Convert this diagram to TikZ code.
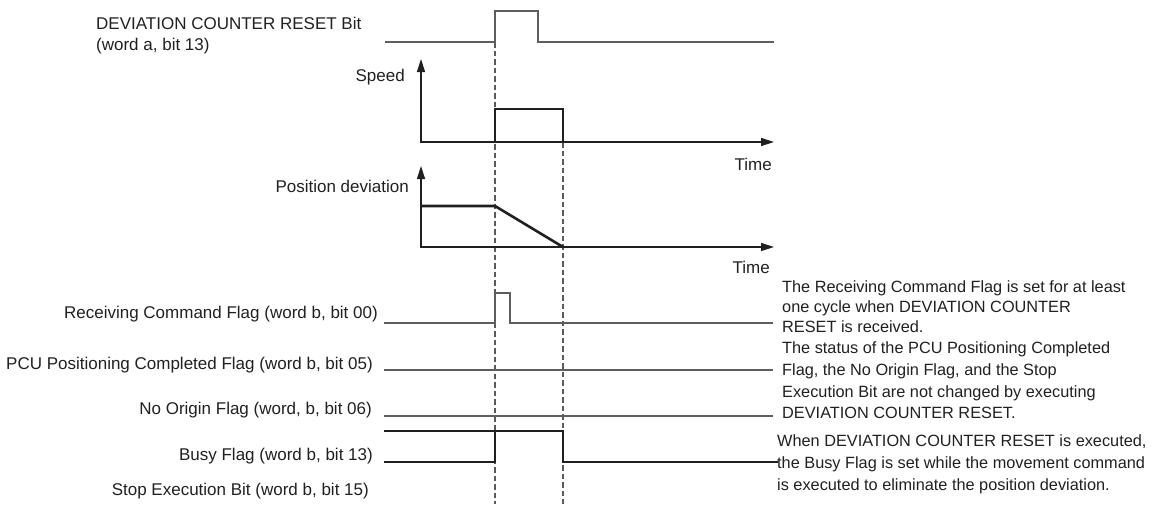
\documentclass[tikz,border=0pt]{standalone}
\usepackage{fontspec}
\setmainfont{Liberation Sans}
\usetikzlibrary{arrows.meta}
\definecolor{sig}{HTML}{5E5E5E}
\definecolor{ink}{HTML}{231F20}
\definecolor{guidecol}{HTML}{5A5A5A}
\begin{document}
\begin{tikzpicture}[x=1pt,y=-1pt,
  lbl/.style={font=\fontsize{17}{22.3}\selectfont, text=ink, inner sep=0pt},
  note/.style={lbl, anchor=north west, align=left},
  sigline/.style={draw=sig, line width=1.3pt},
  busyline/.style={draw=ink, line width=1.3pt},
  axisline/.style={draw=ink, line width=1.3pt, {Triangle[length=13pt,width=8pt]}-{Triangle[length=13pt,width=8pt]}},
  heavy/.style={draw=ink, line width=2.6pt, line join=miter},
  guide/.style={draw=guidecol, line width=1.1pt, dash pattern=on 5.5pt off 3pt}]
\useasboundingbox (0,0) rectangle (1164,504);

% guide lines
\coordinate (gA) at (495,42);  \coordinate (gAend) at (495,504);
\coordinate (gB) at (563,142); \coordinate (gBend) at (563,504);
\draw[guide] (gA) -- (gAend);
\draw[guide] (gB) -- (gBend);

% DEVIATION COUNTER RESET bit
\draw[sigline] (385,42) -- (495,42) -- (495,11) -- (538,11) -- (538,42) -- (774,42);
\node[lbl, anchor=north west, align=left, font=\fontsize{17}{21}\selectfont] (dcr) at (96,16.7)
  {DEVIATION COUNTER RESET Bit\\(word a, bit 13)};

% Speed
\coordinate (so) at (421,142);
\draw[axisline] (421,59) -- (so) -- (774,142);
\draw[heavy] (495,142) -- (495,109) -- (563,109) -- (563,142);
\node[lbl, anchor=base east] (speed) at (405,81) {Speed};
\node[lbl, anchor=base east] (time1) at (772,170) {Time};

% Position deviation
\coordinate (po) at (421,247);
\draw[axisline] (421,166) -- (po) -- (774,247);
\draw[heavy] (421,206) -- (495,206) -- (563,247);
\node[lbl, anchor=base east] (posdev) at (409,192) {Position deviation};
\node[lbl, anchor=base east] (time2) at (770,273) {Time};

% flags
\draw[sigline] (384,323) -- (495,323) -- (495,293) -- (510,293) -- (510,323) -- (773,323);
\draw[sigline] (384,370) -- (773,370);
\draw[sigline] (384,416) -- (773,416);
\draw[busyline] (384,431) -- (563,431) -- (563,462) -- (778,462);
\draw[busyline] (384,462) -- (495,462) -- (495,431);

\node[lbl, anchor=base east] (rcf) at (378,318) {Receiving Command Flag (word b, bit 00)};
\node[lbl, anchor=base east] (pcu) at (373,369) {PCU Positioning Completed Flag (word b, bit 05)};
\node[lbl, anchor=base east] (nof) at (372,414) {No Origin Flag (word, b, bit 06)};
\node[lbl, anchor=base east] (busy) at (373,460) {Busy Flag (word b, bit 13)};
\node[lbl, anchor=base east] (seb) at (369,495) {Stop Execution Bit (word b, bit 15)};

% notes
\node[note, font=\fontsize{16.3}{20}\selectfont] (note1) at (782,280.7)
  {The Receiving Command Flag is set for at least\\one cycle when DEVIATION COUNTER\\RESET is received.};
\node[note, font=\fontsize{16.3}{21.8}\selectfont] (note2) at (782,341.5)
  {The status of the PCU Positioning Completed\\Flag, the No Origin Flag, and the Stop\\Execution Bit are not changed by executing\\DEVIATION COUNTER RESET.};
\node[note, font=\fontsize{16.3}{22}\selectfont] (note3) at (777,434.2)
  {When DEVIATION COUNTER RESET is executed,\\the Busy Flag is set while the movement command\\is executed to eliminate the position deviation.};
\end{tikzpicture}
\end{document}
